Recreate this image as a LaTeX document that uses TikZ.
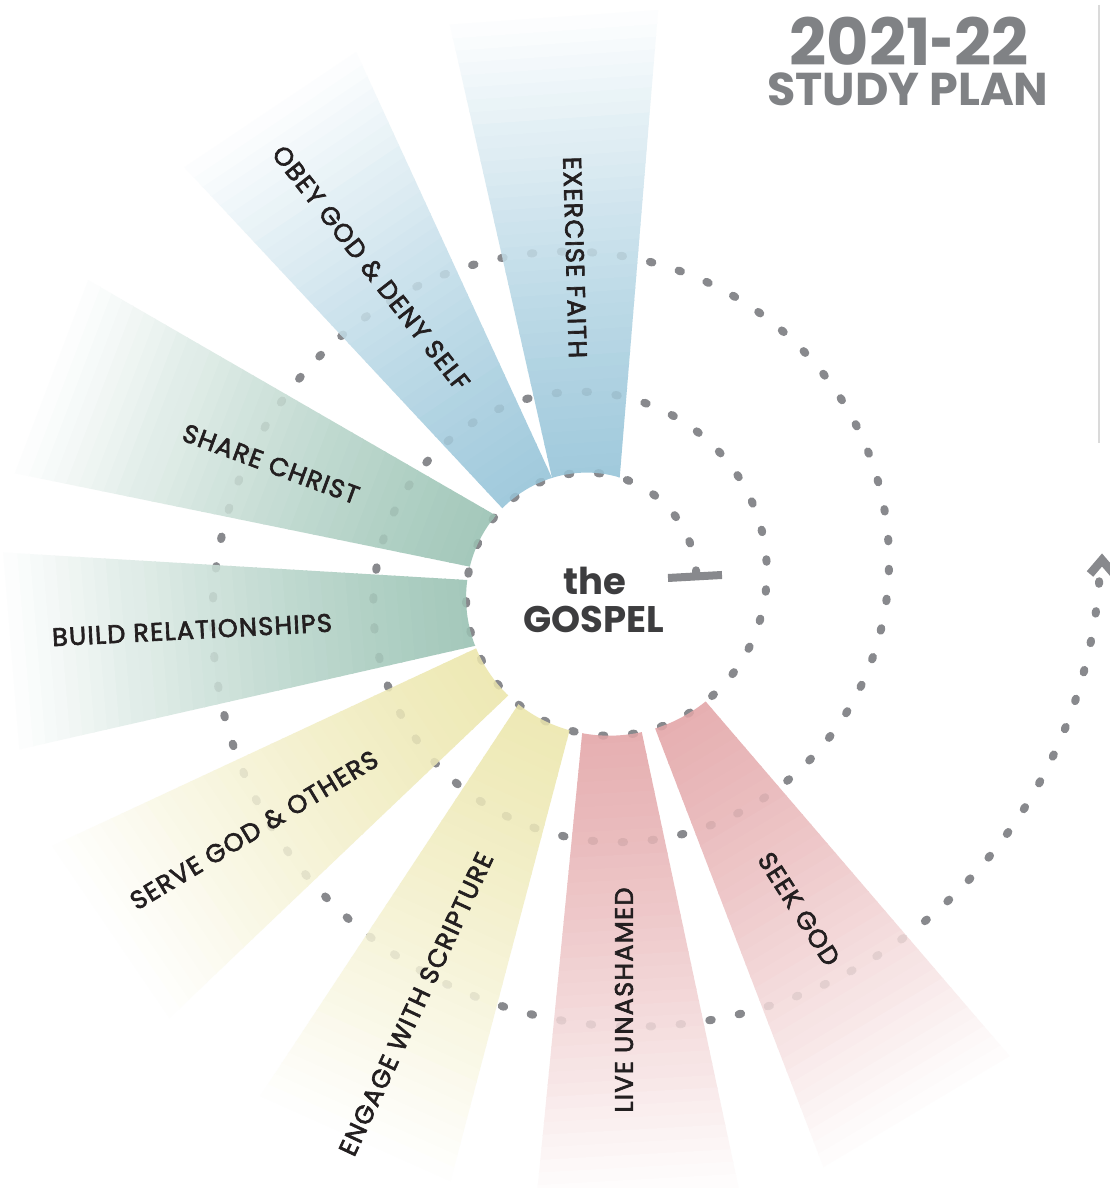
\documentclass[tikz,border=0pt]{standalone}
\usepackage{fontspec}
\setmainfont{Poppins}
\newfontfamily\labfont[FakeBold=2.5, LetterSpace=5]{Poppins}
\usetikzlibrary{calc}
\definecolor{rblue}{HTML}{9DC8DB}
\definecolor{rgreen}{HTML}{A0C6B8}
\definecolor{ryellow}{HTML}{EDE8B2}
\definecolor{rpink}{HTML}{E5ACAE}
\definecolor{dotgray}{HTML}{88898D}
\definecolor{labelink}{HTML}{231F20}
\definecolor{centerink}{HTML}{3D3D3F}
\definecolor{titlegray}{HTML}{808285}
\definecolor{rulegray}{HTML}{DADADA}
\newcommand\spiralplot{plot[domain=6:1083, samples=700] ({599+sr(\x)*cos(\x)},{605+sr(\x)*sin(\x)})}
\newcommand\ray[5]{%
 \begin{scope}
  \coordinate (A) at ({599+sr(#1)*cos(#1)},{605+sr(#1)*sin(#1)});
  \coordinate (B) at ({599+sr(#2)*cos(#2)},{605+sr(#2)*sin(#2)});
  \clip (A) -- ($(A)+(#3:480)$) -- ($(B)+(#4:480)$) -- (B) -- plot[domain=#2:#1,samples=40] ({599+sr(\x)*cos(\x)},{605+sr(\x)*sin(\x)}) -- cycle;
  \pgfmathsetmacro\rayang{(#3+#4)/2}
  \begin{scope}[shift={($(A)!0.5!(B)$)}, rotate=\rayang]
   \foreach \i in {0,...,39}{
     \pgfmathtruncatemacro\pc{100-97*(\i/39)^1.3}
     \fill[#5!\pc!white] ({-40+\i*12.5},-400) rectangle ({-40+\i*12.5+14},400);
   }
  \end{scope}
  \draw[spiraldots, black, opacity=0.07] \spiralplot;
 \end{scope}}
\begin{document}
\begin{tikzpicture}[x=1pt,y=1pt,
  declare function={sr(\t)=96*exp(0.001522*\t)+3.5+4.5*cos(\t-240);},
  spiraldots/.style={line width=8pt, line cap=round, dash pattern=on 2.5pt off 27.5pt},
  raylabel/.style={font=\labfont\fontsize{25.5}{25.5}\selectfont, text=labelink, inner sep=0pt},
]
\useasboundingbox (0,0) rectangle (1109,1188);
\fill[white] (0,0) rectangle (1109,1188);
% spiral
\draw[spiraldots, dotgray] \spiralplot;
% rays
\ray{78.9}{114.1}{85.3}{102.7}{rblue}
\ray{114.1}{142.3}{114.7}{133}{rblue}
\ray{146.8}{172.8}{150}{168.4}{rgreen}
\ray{178.7}{206.9}{176.6}{192.8}{rgreen}
\ray{208}{231.1}{205}{223.6}{ryellow}
\ray{236.4}{258.7}{236.6}{255.2}{ryellow}
\ray{263.6}{286}{264.4}{282}{rpink}
\ray{291.1}{312}{291}{310.6}{rpink}
% start bar and end chevron
\coordinate (barL) at (668,610);
\coordinate (barR) at (722,613);
\draw[dotgray, line width=8pt] (barL) -- (barR);
\coordinate (chevL) at (1090,614);
\coordinate (chevT) at (1102,628);
\coordinate (chevR) at (1114,614);
\draw[dotgray, line width=8.5pt, miter limit=10] (chevL) -- (chevT) -- (chevR);
% vertical rule
\coordinate (ruleT) at (1099,1183);
\coordinate (ruleB) at (1099,745);
\draw[rulegray, line width=2pt] (ruleT) -- (ruleB);
% labels
\node[raylabel, rotate=-88.3] (lexercise) at (575,930.5) {EXERCISE FAITH};
\node[raylabel, rotate=-52] (lobey) at (371,920) {OBEY GOD \& DENY SELF};
\node[raylabel, rotate=-20.3] (lshare) at (271,724) {SHARE CHRIST};
\node[raylabel, rotate=3] (lbuild) at (192,558) {BUILD RELATIONSHIPS};
\node[raylabel, rotate=31] (lserve) at (254,358) {SERVE GOD \& OTHERS};
\node[raylabel, rotate=65] (lengage) at (416,184) {ENGAGE WITH SCRIPTURE};
\node[raylabel, rotate=90] (llive) at (624,188) {LIVE UNASHAMED};
\node[raylabel, rotate=-57.4] (lseek) at (799,279) {SEEK GOD};
% center
\node[font=\fontsize{37}{37}\selectfont\bfseries, text=centerink, inner sep=0pt] (the) at (595,607) {the};
\node[font=\fontsize{37}{37}\selectfont\bfseries, text=centerink, inner sep=0pt] (gospel) at (594,569) {GOSPEL};
% title
\node[font=\fontsize{65}{65}\selectfont\bfseries, text=titlegray, inner sep=0pt] (year) at (909,1147) {2021\scalebox{0.62}[1]{-}22};
\node[font=\fontsize{46}{46}\selectfont\bfseries, text=titlegray, inner sep=0pt] (plan) at (908,1099) {STUDY PLAN};
\end{tikzpicture}
\end{document}
